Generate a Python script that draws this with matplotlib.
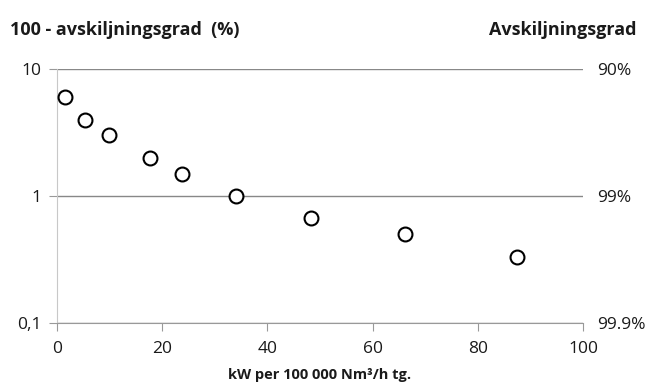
import matplotlib.pyplot as plt
from matplotlib.ticker import FixedLocator, NullLocator

plt.rcParams['font.family'] = ['Open Sans', 'DejaVu Sans']

# Spesifik effekt och kvarvarande andel stoft
effekt = [1.5, 5.3, 9.9, 17.7, 23.8, 34.0, 48.3, 66.2, 87.5]
rest = [6.0, 4.0, 3.0, 2.0, 1.5, 1.0, 0.67, 0.5, 0.33]

y_ticks = [0.1, 1, 10]
y_labels = ['0,1', '1', '10']
y2_labels = ['99.9%', '99%', '90%']
x_ticks = [0, 20, 40, 60, 80, 100]

txt = '#1a1a1a'

fig = plt.figure(figsize=(6.46, 3.87), dpi=100)
ax = fig.add_axes([0.0882, 0.1654, 0.8143, 0.6563])

ax.plot(effekt, rest, linestyle='none', marker='o', markersize=10,
        markerfacecolor='white', markeredgecolor='black', markeredgewidth=1.5,
        zorder=3, clip_on=False)

ax.set_yscale('log')
ax.set_ylim(0.1, 10)
ax.set_xlim(0, 100)
ax.yaxis.set_major_locator(FixedLocator(y_ticks))
ax.yaxis.set_minor_locator(NullLocator())
ax.set_yticklabels(y_labels)
ax.set_xticks(x_ticks)

ax.grid(axis='y', color='#888888', linewidth=1)
ax.set_axisbelow(True)
for s in ['top', 'right']:
    ax.spines[s].set_visible(False)
ax.spines['left'].set_color('#c8c8c8')
ax.spines['bottom'].set_color('#999999')
ax.tick_params(axis='x', direction='out', length=6, color='#999999',
               labelsize=12.5, labelcolor=txt, pad=7)
ax.tick_params(axis='y', direction='out', length=6, color='#999999',
               labelsize=12.5, labelcolor=txt, pad=5)

ax2 = ax.twinx()
ax2.set_yscale('log')
ax2.set_ylim(0.1, 10)
ax2.yaxis.set_major_locator(FixedLocator(y_ticks))
ax2.yaxis.set_minor_locator(NullLocator())
ax2.set_yticklabels(y2_labels)
ax2.tick_params(axis='y', length=0, labelsize=12.5, labelcolor=txt, pad=10)
for s in ax2.spines.values():
    s.set_visible(False)

ax.set_xlabel('kW per 100 000 Nm³/h tg.', fontsize=10.5, fontweight='bold',
              color=txt, labelpad=8)
fig.text(0.015, 0.922, '100 - avskiljningsgrad  (%)', fontsize=13,
         fontweight='bold', color=txt, va='center', ha='left')
fig.text(0.985, 0.922, 'Avskiljningsgrad', fontsize=13,
         fontweight='bold', color=txt, va='center', ha='right')

fig.savefig('out.png', dpi=100)
